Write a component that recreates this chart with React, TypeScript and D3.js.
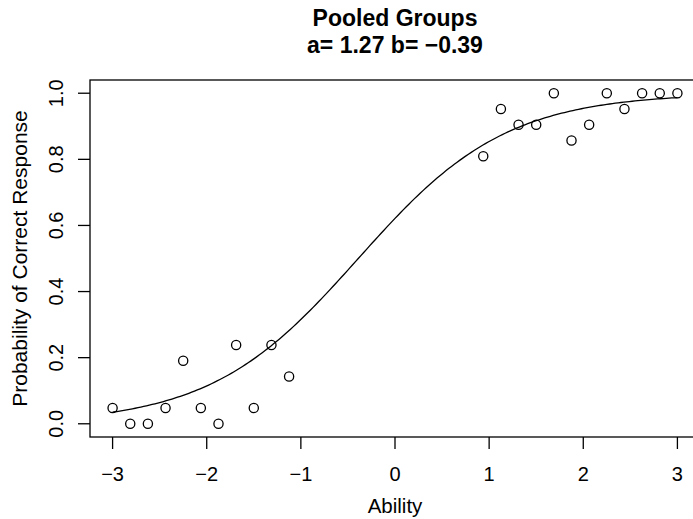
import React from "react";
import * as d3 from "d3";

// ---- data ----
const ability: number[] = [
  -3.0, -2.8125, -2.625, -2.4375, -2.25, -2.0625, -1.875, -1.6875, -1.5, -1.3125, -1.125,
  0.9375, 1.125, 1.3125, 1.5, 1.6875, 1.875, 2.0625, 2.25, 2.4375, 2.625, 2.8125, 3.0,
];
const correctCounts: number[] = [
  1, 0, 0, 1, 4, 1, 0, 5, 1, 5, 3,
  17, 20, 19, 19, 21, 18, 19, 21, 20, 21, 21, 21,
];
const groupSize = 21;
const paramA = 1.27;
const paramB = -0.39;
const xTicks: number[] = [-3, -2, -1, 0, 1, 2, 3];
const yTicks: number[] = [0, 0.2, 0.4, 0.6, 0.8, 1.0];
const titleLines: string[] = ["Pooled Groups", "a= 1.27 b= \u22120.39"];
const xLabel = "Ability";
const yLabel = "Probability of Correct Response";

const W = 693;
const H = 519;
const box = { left: 90, right: 700, top: 80, bottom: 437 };
const FONT = "'Liberation Sans', Arial, Helvetica, sans-serif";

export default function App() {
  const x = d3.scaleLinear().domain([-3.24, 3.24]).range([box.left, box.right]);
  const y = d3.scaleLinear().domain([-0.04, 1.04]).range([box.bottom, box.top]);

  const icc = (t: number) => 1 / (1 + Math.exp(-paramA * (t - paramB)));
  const curveX = d3.range(0, 201).map((i) => -3 + (6 * i) / 200);
  const line = d3
    .line<number>()
    .x((t) => x(t))
    .y((t) => y(icc(t)));

  const fmtMinus = (v: number) => (v < 0 ? "\u2212" + Math.abs(v) : String(v));

  return (
    <svg
      width={W}
      height={H}
      style={{ position: "absolute", left: 0, top: 0, background: "#fff" }}
      fontFamily={FONT}
    >
      <rect x={0} y={0} width={W} height={H} fill="#fff" />
      {/* title */}
      <text x={395} y={26} textAnchor="middle" fontWeight="bold" fontSize={23} fill="#000">
        {titleLines[0]}
      </text>
      <text x={395} y={53} textAnchor="middle" fontWeight="bold" fontSize={23} fill="#000">
        {titleLines[1]}
      </text>

      {/* box */}
      <rect
        x={box.left}
        y={box.top}
        width={box.right - box.left}
        height={box.bottom - box.top}
        fill="none"
        stroke="#000"
        strokeWidth={1.3}
      />

      {/* x axis */}
      {xTicks.map((t) => (
        <g key={"xt" + t}>
          <line x1={x(t)} x2={x(t)} y1={box.bottom} y2={box.bottom + 12} stroke="#000" strokeWidth={1.3} />
          <text x={x(t)} y={481} textAnchor="middle" fontSize={20} fill="#000">
            {fmtMinus(t)}
          </text>
        </g>
      ))}
      <text x={395} y={513} textAnchor="middle" fontSize={20.5} fill="#000">
        {xLabel}
      </text>

      {/* y axis */}
      {yTicks.map((t) => (
        <g key={"yt" + t}>
          <line x1={box.left - 12} x2={box.left} y1={y(t)} y2={y(t)} stroke="#000" strokeWidth={1.3} />
          <text
            transform={`translate(63,${y(t)}) rotate(-90)`}
            textAnchor="middle"
            fontSize={20}
            fill="#000"
          >
            {t.toFixed(1)}
          </text>
        </g>
      ))}
      <text
        transform={`translate(27,${(box.top + box.bottom) / 2}) rotate(-90)`}
        textAnchor="middle"
        fontSize={21}
        fill="#000"
      >
        {yLabel}
      </text>

      {/* curve */}
      <path d={line(curveX) || ""} fill="none" stroke="#000" strokeWidth={1.3} />

      {/* points */}
      {ability.map((a, i) => (
        <circle
          key={"p" + i}
          cx={x(a)}
          cy={y(correctCounts[i] / groupSize)}
          r={4.6}
          fill="none"
          stroke="#000"
          strokeWidth={1.3}
        />
      ))}
    </svg>
  );
}
